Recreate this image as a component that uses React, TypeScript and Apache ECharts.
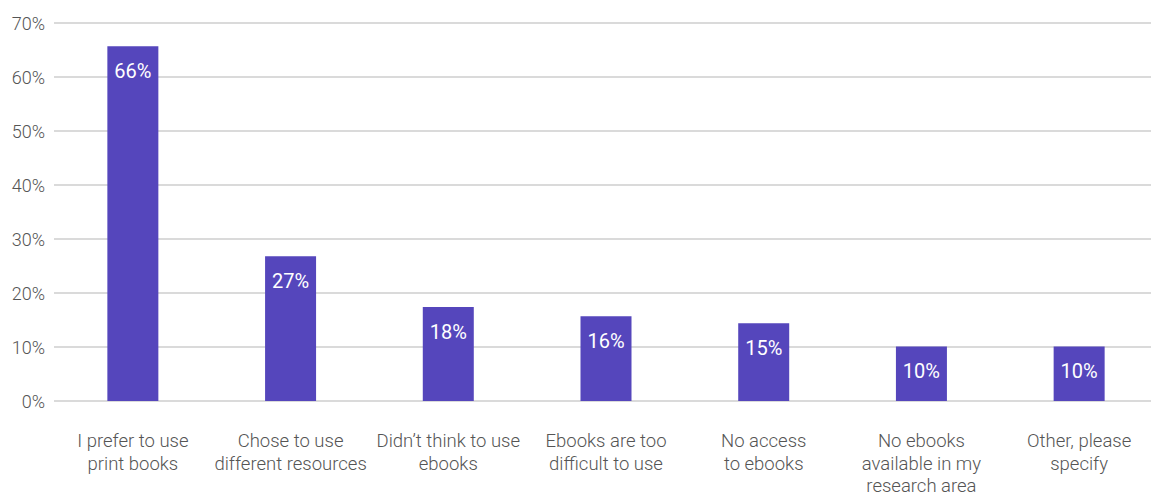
import React, { useEffect, useRef } from "react";
import * as echarts from "echarts";

const categories = [
  "I prefer to use\nprint books",
  "Chose to use\ndifferent resources",
  "Didn’t think to use\nebooks",
  "Ebooks are too\ndifficult to use",
  "No access\nto ebooks",
  "No ebooks\navailable in my\nresearch area",
  "Other, please\nspecify",
];
const values = [65.7, 26.8, 17.4, 15.7, 14.4, 10.1, 10.1];
const valueLabels = ["66%", "27%", "18%", "16%", "15%", "10%", "10%"];

export default function App() {
  const ref = useRef<HTMLDivElement>(null);
  useEffect(() => {
    document.body.style.margin = "0";
    const chart = echarts.init(ref.current!, null, { renderer: "svg" });
    chart.setOption({
      animation: false,
      grid: { left: 54, width: 1104, top: 23, bottom: 93, outerBoundsMode: "none", containLabel: false },
      xAxis: {
        type: "category",
        data: categories,
        axisLine: { show: false },
        axisTick: { show: false },
        axisLabel: {
          interval: 0,
          margin: 29,
          color: "#555",
          fontFamily: "Roboto",
          fontWeight: 300,
          fontSize: 18.5,
          lineHeight: 22.5,
        },
      },
      yAxis: {
        type: "value",
        min: 0,
        max: 70,
        interval: 10,
        axisLabel: {
          formatter: "{value}%",
          color: "#555",
          fontFamily: "Roboto",
          fontWeight: 300,
          fontSize: 18,
          margin: 9,
        },
        splitLine: { lineStyle: { color: "#dadada", width: 2 } },
      },
      series: [
        {
          type: "bar",
          data: values,
          barWidth: 51,
          itemStyle: { color: "#5546BC" },
          label: {
            show: true,
            position: "insideTop",
            distance: 15,
            color: "#fff",
            fontFamily: "Roboto",
            fontWeight: 400,
            fontSize: 20,
            formatter: (p: any) => valueLabels[p.dataIndex],
          },
        },
      ],
    });
    return () => chart.dispose();
  }, []);
  return <div ref={ref} style={{ width: 1151, height: 494 }} />;
}
